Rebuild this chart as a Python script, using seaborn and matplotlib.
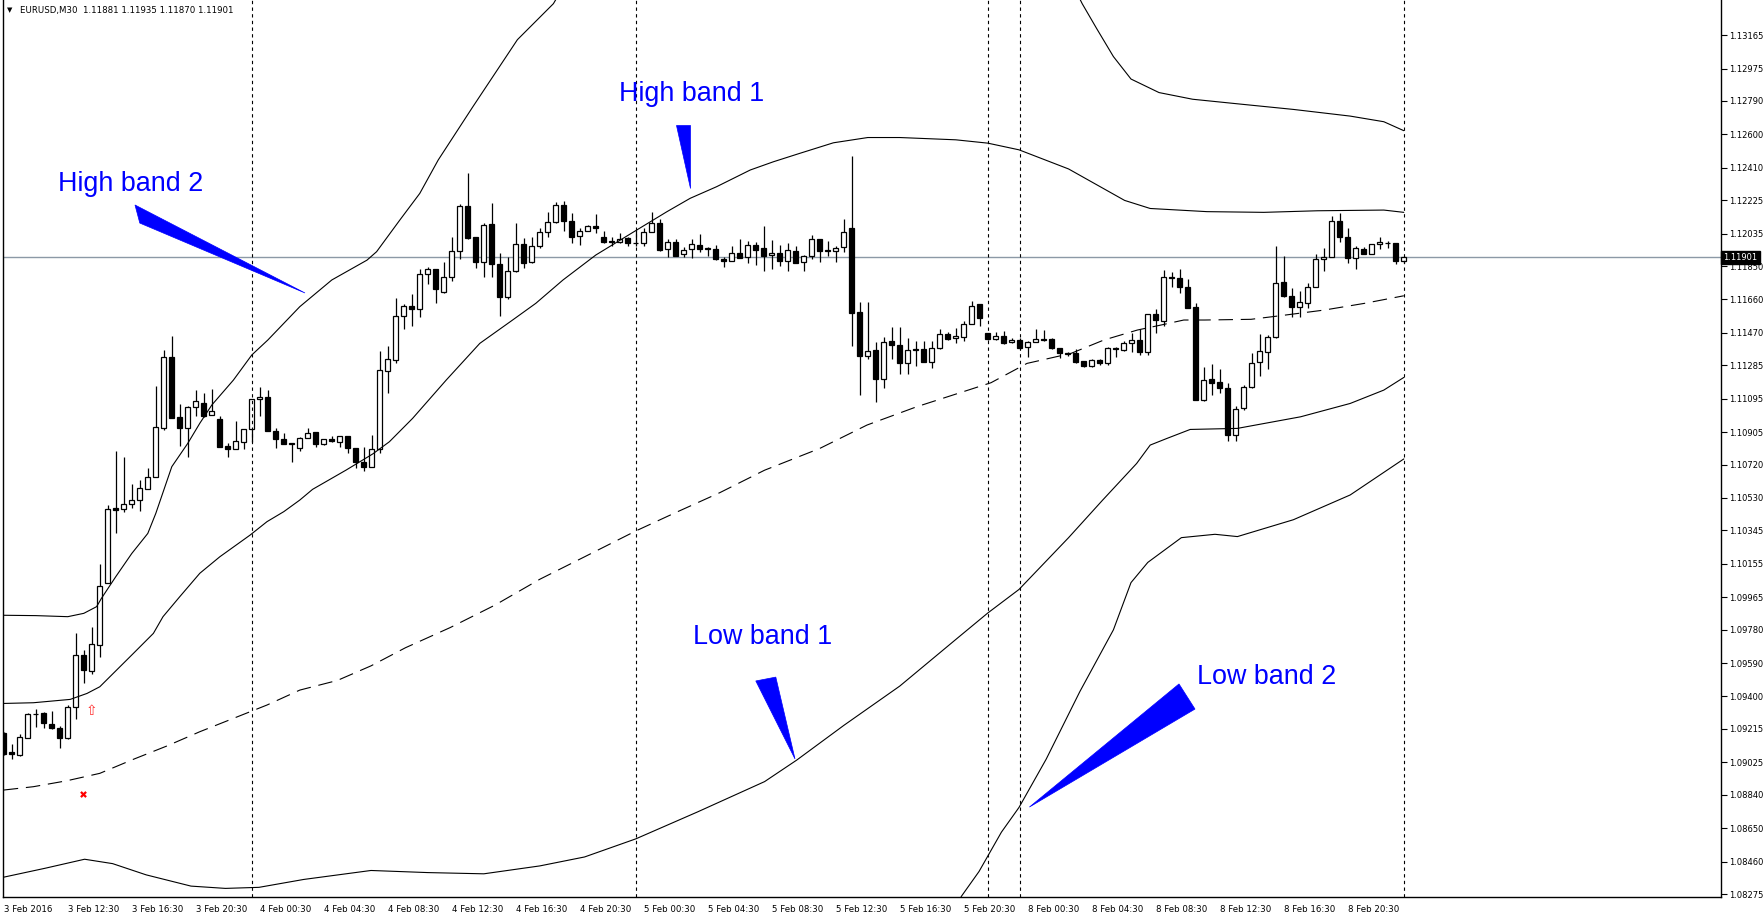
import numpy as np
import matplotlib
matplotlib.use("Agg")
import matplotlib.pyplot as plt
import matplotlib.transforms as mtransforms
from matplotlib.patches import Polygon
import seaborn as sns

# ---------------- data (EURUSD M30, bar index 0 = 3 Feb 2016 08:30) ----------------
opens = [1.09190, 1.09082, 1.09066, 1.09161, 1.09300, 1.09304, 1.09241, 1.09218, 1.09161, 1.09338,
         1.09636, 1.09546, 1.09693, 1.10044, 1.10473, 1.10465, 1.10493, 1.10518, 1.10579, 1.10647,
         1.10926, 1.11330, 1.10989, 1.10926, 1.11046, 1.11068, 1.11004, 1.10979, 1.10825, 1.10807,
         1.10846, 1.10920, 1.11091, 1.11103, 1.10911, 1.10863, 1.10841, 1.10812, 1.10869, 1.10903,
         1.10837, 1.10863, 1.10850, 1.10882, 1.10814, 1.10736, 1.10704, 1.10807, 1.11254, 1.11315,
         1.11566, 1.11622, 1.11603, 1.11803, 1.11831, 1.11704, 1.11786, 1.11936, 1.12192, 1.12013,
         1.11875, 1.12089, 1.11860, 1.11672, 1.11824, 1.11974, 1.11871, 1.11964, 1.12042, 1.12103,
         1.12198, 1.12106, 1.12021, 1.12050, 1.12080, 1.12013, 1.11993, 1.11989, 1.12012, 1.11983,
         1.11979, 1.12046, 1.12093, 1.11945, 1.11985, 1.11917, 1.11945, 1.11970, 1.11955, 1.11947,
         1.11892, 1.11881, 1.11922, 1.11900, 1.11968, 1.11951, 1.11911, 1.11922, 1.11881, 1.11936,
         1.11871, 1.11909, 1.12002, 1.11941, 1.11936, 1.11957, 1.12065, 1.11586, 1.11340, 1.11372,
         1.11205, 1.11421, 1.11400, 1.11300, 1.11376, 1.11378, 1.11306, 1.11382, 1.11461, 1.11438,
         1.11448, 1.11518, 1.11634, 1.11467, 1.11433, 1.11454, 1.11416, 1.11429, 1.11387, 1.11418,
         1.11435, 1.11435, 1.11382, 1.11357, 1.11353, 1.11309, 1.11281, 1.11315, 1.11296, 1.11385,
         1.11372, 1.11410, 1.11429, 1.11363, 1.11575, 1.11539, 1.11790, 1.11780, 1.11732, 1.11615,
         1.11087, 1.11205, 1.11188, 1.11154, 1.10888, 1.11040, 1.11160, 1.11306, 1.11363, 1.11448,
         1.11757, 1.11681, 1.11619, 1.11638, 1.11732, 1.11888, 1.11903, 1.12108, 1.12017, 1.11894,
         1.11945, 1.11918, 1.11974, 1.11983, 1.11979, 1.11881]
highs = [1.09195, 1.09129, 1.09184, 1.09304, 1.09326, 1.09313, 1.09317, 1.09231, 1.09351, 1.09759,
         1.09664, 1.09797, 1.10152, 1.10490, 1.10797, 1.10765, 1.10609, 1.10630, 1.10700, 1.11167,
         1.11372, 1.11452, 1.11065, 1.11053, 1.11144, 1.11129, 1.11148, 1.10996, 1.10844, 1.10968,
         1.10920, 1.11091, 1.11160, 1.11144, 1.10926, 1.10898, 1.10841, 1.10875, 1.10926, 1.10907,
         1.10863, 1.10882, 1.10882, 1.10882, 1.10814, 1.10822, 1.10888, 1.11366, 1.11395, 1.11670,
         1.11634, 1.11689, 1.11831, 1.11843, 1.11831, 1.11875, 1.12017, 1.12201, 1.12382, 1.12013,
         1.12097, 1.12207, 1.11926, 1.11903, 1.12093, 1.12012, 1.12017, 1.12065, 1.12160, 1.12216,
         1.12220, 1.12154, 1.12065, 1.12084, 1.12146, 1.12051, 1.12017, 1.12040, 1.12017, 1.12055,
         1.12065, 1.12160, 1.12118, 1.12004, 1.12004, 1.11957, 1.12004, 1.12031, 1.11957, 1.11968,
         1.11903, 1.11964, 1.12004, 1.11993, 1.11985, 1.12078, 1.11998, 1.11970, 1.11979, 1.11964,
         1.11913, 1.12027, 1.12004, 1.11993, 1.11964, 1.12118, 1.12476, 1.11643, 1.11643, 1.11419,
         1.11448, 1.11501, 1.11505, 1.11442, 1.11423, 1.11423, 1.11423, 1.11490, 1.11476, 1.11495,
         1.11537, 1.11651, 1.11634, 1.11471, 1.11476, 1.11480, 1.11438, 1.11438, 1.11425, 1.11492,
         1.11486, 1.11442, 1.11382, 1.11363, 1.11378, 1.11309, 1.11319, 1.11319, 1.11391, 1.11391,
         1.11425, 1.11471, 1.11490, 1.11575, 1.11604, 1.11827, 1.11818, 1.11831, 1.11774, 1.11641,
         1.11277, 1.11292, 1.11262, 1.11182, 1.11053, 1.11173, 1.11357, 1.11461, 1.11457, 1.11964,
         1.11907, 1.11723, 1.11708, 1.11751, 1.11918, 1.11951, 1.12135, 1.12150, 1.12065, 1.11964,
         1.11960, 1.11974, 1.12013, 1.11993, 1.11979, 1.11905]
lows = [1.09065, 1.09042, 1.09061, 1.09161, 1.09228, 1.09218, 1.09212, 1.09104, 1.09155, 1.09269,
        1.09478, 1.09526, 1.09626, 1.10044, 1.10328, 1.10452, 1.10474, 1.10457, 1.10579, 1.10647,
        1.10917, 1.10983, 1.10826, 1.10765, 1.10996, 1.10993, 1.11002, 1.10818, 1.10761, 1.10807,
        1.10807, 1.10850, 1.10996, 1.10909, 1.10816, 1.10835, 1.10736, 1.10800, 1.10869, 1.10822,
        1.10831, 1.10850, 1.10818, 1.10788, 1.10698, 1.10685, 1.10704, 1.10784, 1.11125, 1.11300,
        1.11490, 1.11510, 1.11558, 1.11746, 1.11641, 1.11695, 1.11767, 1.11888, 1.12002, 1.11837,
        1.11790, 1.11790, 1.11568, 1.11660, 1.11818, 1.11841, 1.11865, 1.11951, 1.12017, 1.12093,
        1.12051, 1.11979, 1.11970, 1.12050, 1.12040, 1.11983, 1.11964, 1.11979, 1.11964, 1.11964,
        1.11964, 1.12046, 1.11936, 1.11903, 1.11909, 1.11903, 1.11894, 1.11928, 1.11907, 1.11884,
        1.11846, 1.11881, 1.11894, 1.11869, 1.11856, 1.11824, 1.11831, 1.11852, 1.11824, 1.11865,
        1.11824, 1.11888, 1.11875, 1.11909, 1.11875, 1.11932, 1.11397, 1.11116, 1.11319, 1.11078,
        1.11154, 1.11321, 1.11235, 1.11235, 1.11281, 1.11302, 1.11268, 1.11376, 1.11429, 1.11410,
        1.11425, 1.11518, 1.11509, 1.11429, 1.11429, 1.11406, 1.11410, 1.11376, 1.11334, 1.11416,
        1.11423, 1.11376, 1.11328, 1.11338, 1.11296, 1.11277, 1.11277, 1.11287, 1.11287, 1.11334,
        1.11368, 1.11363, 1.11344, 1.11344, 1.11467, 1.11509, 1.11729, 1.11698, 1.11613, 1.11087,
        1.11083, 1.11116, 1.11125, 1.10856, 1.10856, 1.11030, 1.11154, 1.11224, 1.11264, 1.11438,
        1.11676, 1.11558, 1.11562, 1.11609, 1.11732, 1.11824, 1.11903, 1.11989, 1.11865, 1.11831,
        1.11918, 1.11918, 1.11945, 1.11951, 1.11860, 1.11870]
closes = [1.09072, 1.09072, 1.09167, 1.09298, 1.09298, 1.09247, 1.09220, 1.09161, 1.09341, 1.09636,
          1.09550, 1.09698, 1.10030, 1.10469, 1.10463, 1.10495, 1.10516, 1.10585, 1.10647, 1.10932,
          1.11330, 1.10983, 1.10926, 1.11046, 1.11082, 1.10998, 1.11023, 1.10822, 1.10807, 1.10854,
          1.10920, 1.11091, 1.11103, 1.10909, 1.10863, 1.10839, 1.10835, 1.10870, 1.10901, 1.10835,
          1.10863, 1.10854, 1.10882, 1.10812, 1.10736, 1.10708, 1.10807, 1.11258, 1.11319, 1.11566,
          1.11622, 1.11605, 1.11803, 1.11831, 1.11717, 1.11786, 1.11936, 1.12192, 1.12012, 1.11875,
          1.12084, 1.11860, 1.11672, 1.11822, 1.11974, 1.11869, 1.11964, 1.12046, 1.12103, 1.12198,
          1.12108, 1.12017, 1.12050, 1.12080, 1.12065, 1.11989, 1.11990, 1.12002, 1.11983, 1.11979,
          1.12042, 1.12093, 1.11941, 1.11985, 1.11909, 1.11941, 1.11974, 1.11947, 1.11947, 1.11888,
          1.11877, 1.11922, 1.11898, 1.11968, 1.11941, 1.11909, 1.11924, 1.11881, 1.11941, 1.11869,
          1.11909, 1.12002, 1.11938, 1.11934, 1.11951, 1.12042, 1.11585, 1.11340, 1.11366, 1.11205,
          1.11419, 1.11398, 1.11296, 1.11372, 1.11373, 1.11302, 1.11382, 1.11461, 1.11433, 1.11452,
          1.11518, 1.11624, 1.11552, 1.11433, 1.11454, 1.11414, 1.11429, 1.11385, 1.11416, 1.11435,
          1.11427, 1.11382, 1.11353, 1.11349, 1.11306, 1.11281, 1.11315, 1.11296, 1.11382, 1.11376,
          1.11410, 1.11429, 1.11363, 1.11575, 1.11543, 1.11790, 1.11780, 1.11729, 1.11613, 1.11087,
          1.11201, 1.11186, 1.11154, 1.10888, 1.11034, 1.11160, 1.11300, 1.11368, 1.11444, 1.11755,
          1.11681, 1.11619, 1.11643, 1.11732, 1.11888, 1.11900, 1.12108, 1.12013, 1.11894, 1.11951,
          1.11918, 1.11974, 1.11985, 1.11983, 1.11881, 1.11901]

# envelope / band lines, sampled (bar index, price)
ub2_a_x = [0, 4, 8, 10, 11.6, 12.2, 14, 16, 18, 19, 20, 21, 23, 24.5, 26, 28.7, 31, 33, 35.4, 37,
           41, 45.4, 46.6, 49.5, 52, 54.3, 58.6, 64.2, 68.7, 72]
ub2_a_y = [1.09862, 1.09860, 1.09854, 1.09873, 1.09911, 1.09958, 1.10082, 1.10214, 1.10328, 1.10442,
           1.10575, 1.10708, 1.10841, 1.10955, 1.11059, 1.11201, 1.11344, 1.11429, 1.11543, 1.11619,
           1.11771, 1.11884, 1.11932, 1.12112, 1.12264, 1.12454, 1.12755, 1.13139, 1.13344, 1.13600]
ub2_b_x = [132, 134.8, 136.6, 138.7, 140.9, 144.4, 148.6, 154.2, 161.2, 168.3, 172.5, 175]
ub2_b_y = [1.13600, 1.13344, 1.13203, 1.13043, 1.12915, 1.12838, 1.12800, 1.12774, 1.12742, 1.12704,
           1.12672, 1.12621]
ub1_x = [0, 3.7, 8.3, 10.4, 12.0, 14.1, 16.2, 18.7, 19.9, 22.0, 24.5, 27.0, 30.8, 32.9, 35.0, 37.0,
         38.6, 42.8, 46.1, 48.2, 51.1, 55.3, 59.5, 63.6, 66.5, 69.9, 74.0, 79.1, 82.9, 85.8, 89.1,
         93.3, 96.2, 99.5, 103.7, 108, 112, 119, 123, 126.9, 133.1, 140.1, 143.3, 150.4, 157.5,
         164.2, 172.5, 175]
ub1_y = [1.09360, 1.09364, 1.09383, 1.09417, 1.09455, 1.09550, 1.09645, 1.09759, 1.09854, 1.09968,
         1.10101, 1.10195, 1.10319, 1.10395, 1.10452, 1.10518, 1.10579, 1.10689, 1.10780, 1.10850,
         1.10983, 1.11201, 1.11410, 1.11543, 1.11638, 1.11771, 1.11913, 1.12055, 1.12160, 1.12236,
         1.12302, 1.12397, 1.12444, 1.12492, 1.12552, 1.12582, 1.12582, 1.12569, 1.12550, 1.12512,
         1.12403, 1.12224, 1.12178, 1.12160, 1.12156, 1.12165, 1.12169, 1.12156]
mid_x = [0, 3.7, 7.9, 12.0, 16.2, 20.4, 24.5, 28.7, 32.9, 37.0, 41.7, 45.9, 50.2, 55.8, 61.4, 67.0,
         72.6, 79.0, 83.9, 89.5, 95.1, 102.0, 107.9, 114.1, 123.4, 127.9, 133.4, 137.5, 141.7, 144.6,
         147.5, 150.1, 155.9, 159.3, 165.1, 170.1, 175]
mid_y = [1.08867, 1.08886, 1.08920, 1.08962, 1.09042, 1.09118, 1.09199, 1.09275, 1.09351, 1.09436,
         1.09491, 1.09574, 1.09677, 1.09792, 1.09920, 1.10067, 1.10195, 1.10342, 1.10445, 1.10560,
         1.10688, 1.10812, 1.10945, 1.11049, 1.11186, 1.11296, 1.11353, 1.11429, 1.11486, 1.11514,
         1.11543, 1.11543, 1.11547, 1.11566, 1.11600, 1.11638, 1.11681]
lb1_x = [0, 5.2, 10.1, 13.6, 17.8, 23.4, 27.7, 31.9, 37.5, 45.9, 53.0, 60.0, 67.0, 72.6, 79.0, 86.7,
         95.1, 99.1, 105.0, 112.0, 119.1, 123.0, 126.9, 133.1, 137.3, 141.6, 143.3, 145.4, 148.3,
         154.2, 162.1, 168.3, 172.5, 175]
lb1_y = [1.08371, 1.08422, 1.08473, 1.08448, 1.08384, 1.08320, 1.08307, 1.08313, 1.08358, 1.08409,
         1.08397, 1.08390, 1.08435, 1.08486, 1.08589, 1.08742, 1.08915, 1.09037, 1.09235, 1.09459,
         1.09728, 1.09875, 1.10009, 1.10304, 1.10515, 1.10726, 1.10831, 1.10869, 1.10920, 1.10926,
         1.10992, 1.11068, 1.11144, 1.11216]
lb2_x = [118, 119.7, 121.9, 124.7, 126.9, 130.3, 134.5, 138.7, 140.9, 143.0, 147.2, 151.4, 154.2,
         161.2, 168.3, 175]
lb2_y = [1.08100, 1.08262, 1.08403, 1.08627, 1.08768, 1.09043, 1.09427, 1.09779, 1.10048, 1.10163,
         1.10304, 1.10323, 1.10310, 1.10406, 1.10547, 1.10752]

x_tick_labels = ["3 Feb 2016", "3 Feb 12:30", "3 Feb 16:30", "3 Feb 20:30", "4 Feb 00:30",
                 "4 Feb 04:30", "4 Feb 08:30", "4 Feb 12:30", "4 Feb 16:30", "4 Feb 20:30",
                 "5 Feb 00:30", "5 Feb 04:30", "5 Feb 08:30", "5 Feb 12:30", "5 Feb 16:30",
                 "5 Feb 20:30", "8 Feb 00:30", "8 Feb 04:30", "8 Feb 08:30", "8 Feb 12:30",
                 "8 Feb 16:30", "8 Feb 20:30"]
y_tick_labels = ["1.08275", "1.08460", "1.08650", "1.08840", "1.09025", "1.09215", "1.09400",
                 "1.09590", "1.09780", "1.09965", "1.10155", "1.10345", "1.10530", "1.10720",
                 "1.10905", "1.11095", "1.11285", "1.11470", "1.11660", "1.11850", "1.12035",
                 "1.12225", "1.12410", "1.12600", "1.12790", "1.12975", "1.13165"]

separator_bars = [31, 79, 123, 127, 175]
current_price = 1.11901
title_text = "EURUSD,M30  1.11881 1.11935 1.11870 1.11901"

# annotations: label text, text anchor (bar, price), wedge vertices (bar, price)
ann_labels = ["High band 2", "High band 1", "Low band 1", "Low band 2"]
ann_text_pos = [(6.8, 1.12320), (76.9, 1.12827), (86.2, 1.09740), (149.2, 1.09509)]
ann_wedges = [
    [(16.4, 1.12198), (17.0, 1.12095), (37.65, 1.11697)],
    [(84.0, 1.12653), (85.8, 1.12653), (85.8, 1.12294)],
    [(94.0, 1.09488), (96.5, 1.09510), (98.9, 1.09044)],
    [(146.9, 1.09471), (148.9, 1.09328), (128.2, 1.08770)],
]
signal_up = (10.9, 1.09317)
signal_cross = (9.9, 1.08844)

# ---------------- figure ----------------
sns.set_style("white")
plt.rcParams["font.family"] = ["DejaVu Sans"]

W, H = 1764, 918
fig = plt.figure(figsize=(W / 100, H / 100), dpi=100)
left_px, right_px, bottom_px, top_px = 2.5, 1721, 897, 0
ax = fig.add_axes([left_px / W, (H - bottom_px) / H, (right_px - left_px) / W, (bottom_px - top_px) / H])

n = len(opens)
xs = np.arange(n)
o = np.array(opens); c = np.array(closes); h = np.array(highs); l = np.array(lows)

# current price line
ax.axhline(current_price, color="#8C99A6", lw=1.0, zorder=1)

# wicks
ax.vlines(xs, l, h, color="black", lw=0.9, zorder=2)
# bodies
bull = c >= o
body_bottom = np.minimum(o, c)
body_h = np.maximum(np.abs(c - o), 0.000005)
ax.bar(xs[bull], body_h[bull], bottom=body_bottom[bull], width=0.6, color="white",
       edgecolor="black", linewidth=0.9, zorder=3)
ax.bar(xs[~bull], body_h[~bull], bottom=body_bottom[~bull], width=0.6, color="black",
       edgecolor="black", linewidth=0.9, zorder=3)

# band lines via seaborn
lkw = dict(color="black", linewidth=0.8, sort=False, estimator=None, ax=ax, zorder=4)
for bx, by in [(ub2_a_x, ub2_a_y), (ub2_b_x, ub2_b_y), (ub1_x, ub1_y), (lb1_x, lb1_y), (lb2_x, lb2_y)]:
    sns.lineplot(x=bx, y=by, **lkw)
sns.lineplot(x=mid_x, y=mid_y, linestyle=(0, (13, 7)), **lkw)

# separators
for b in separator_bars:
    ax.axvline(b, color="black", lw=0.8, linestyle=(0, (3, 3)), zorder=5)

# annotations
for lab, (tx, ty), wedge in zip(ann_labels, ann_text_pos, ann_wedges):
    ax.text(tx, ty, lab, color="#0000FF", fontsize=19.4, family="Liberation Sans",
            ha="left", va="center", zorder=6)
    ax.add_patch(Polygon(wedge, closed=True, facecolor="#0000FF", edgecolor="#0000FF",
                         lw=0.5, zorder=6))

ax.text(signal_up[0], signal_up[1], "\u21e7", color="#FF3030", fontsize=10,
        ha="center", va="center", zorder=6)
ax.scatter([signal_cross[0]], [signal_cross[1]], marker="x", s=14, color="#FF0000",
           linewidths=1.6, zorder=6)

# axes limits & ticks
ax.set_xlim(-0.1625, 214.65)
ax.set_ylim(1.08258, 1.13365)

ax.set_xticks(np.arange(0, 8 * len(x_tick_labels), 8))
ax.set_xticklabels(x_tick_labels, ha="left")
ax.set_yticks([float(v) for v in y_tick_labels])
ax.set_yticklabels(y_tick_labels)
ax.yaxis.tick_right()
ax.tick_params(axis="both", direction="out", length=4, width=0.8, color="black",
               labelcolor="black")
ax.tick_params(axis="x", pad=2, labelsize=6.2)
ax.tick_params(axis="y", pad=2, labelsize=6.0)
for s in ax.spines.values():
    s.set_color("black")
    s.set_linewidth(1.0)
ax.spines["top"].set_visible(False)
ax.set_xlabel("")
ax.set_ylabel("")

# current price label box on price scale
trans = mtransforms.blended_transform_factory(ax.transAxes, ax.transData)
ax.text(1.0 + 2.5 / (right_px - left_px), current_price, "1.11901", transform=trans,
        color="white", fontsize=6.0, ha="left", va="center", zorder=10, clip_on=False,
        bbox=dict(boxstyle="square,pad=0.25", facecolor="black", edgecolor="black"))

# title
ax.text(4 / (right_px - left_px), 1 - 10 / (bottom_px - top_px), "\u25bc", transform=ax.transAxes,
        fontsize=5, ha="left", va="center", color="black")
ax.text(17 / (right_px - left_px), 1 - 10 / (bottom_px - top_px), title_text, transform=ax.transAxes,
        fontsize=6.2, ha="left", va="center", color="black")

fig.savefig("out.png", dpi=100, facecolor="white")
